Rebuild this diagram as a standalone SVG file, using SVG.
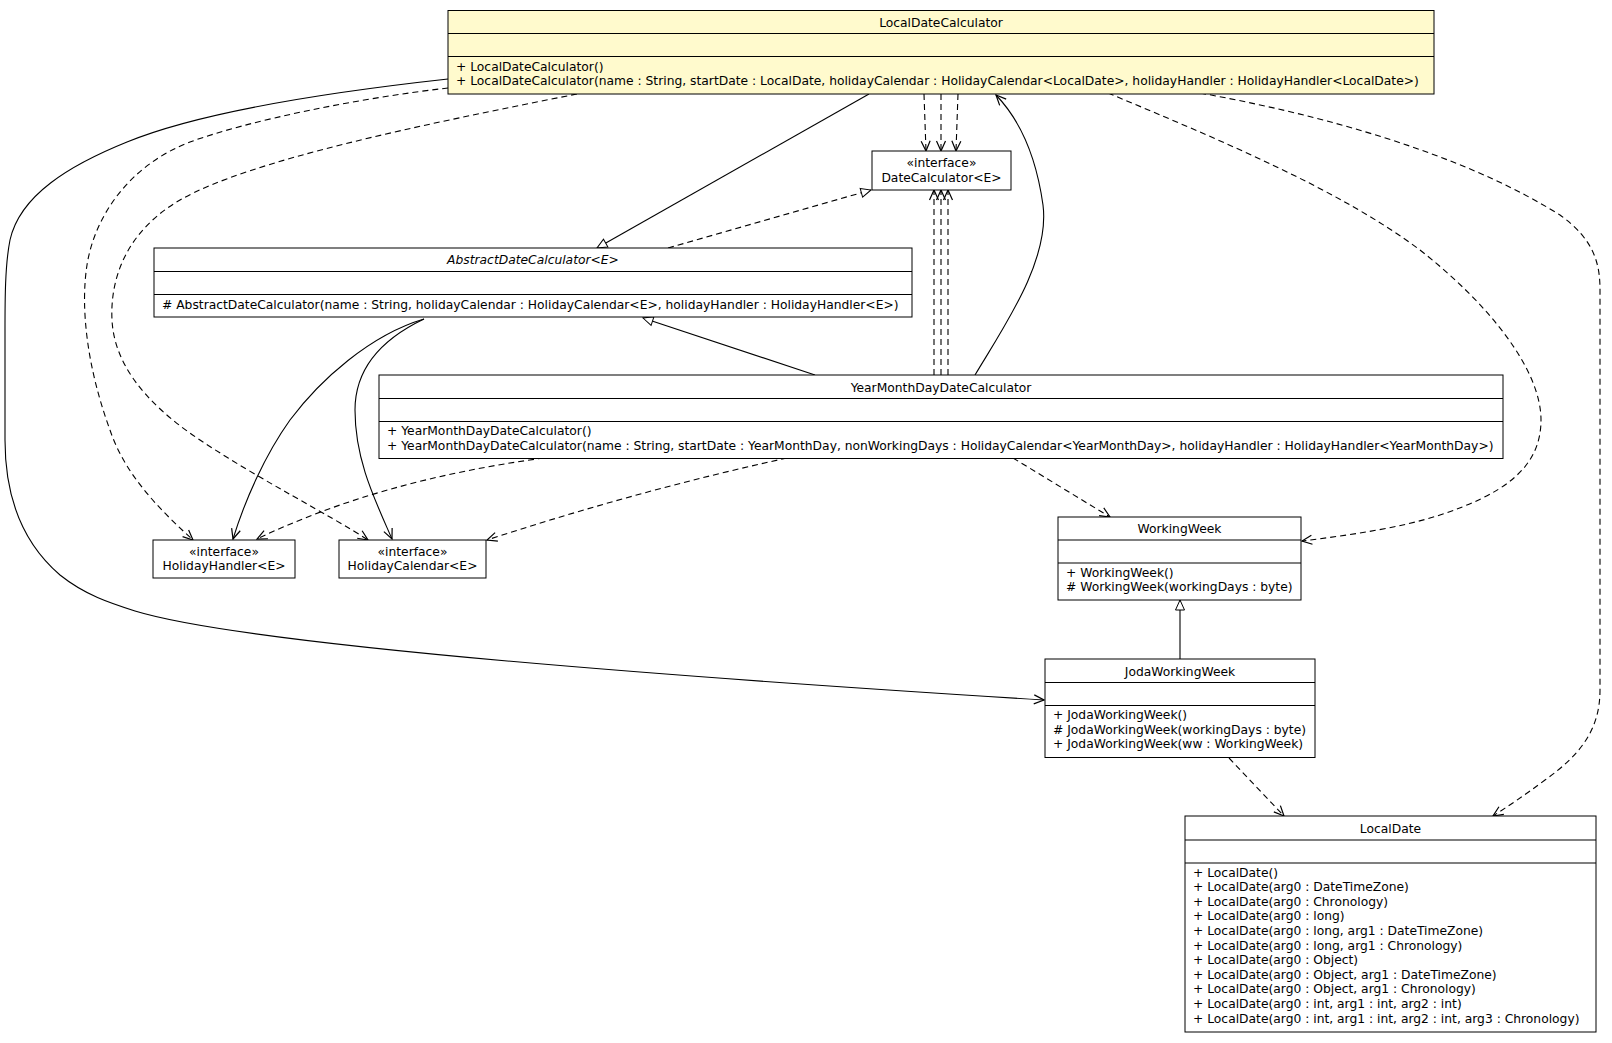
<svg xmlns="http://www.w3.org/2000/svg" width="1612" height="1043" viewBox="0 0 1612 1043">
<style>
  text { font-family: "DejaVu Sans", "Liberation Sans", sans-serif; font-size: 12.3px; fill: #000; }
  .c { text-anchor: middle; }
  .i { font-style: italic; }
  .box { fill: #fff; stroke: #000; stroke-width: 1; }
  .hl { fill: #fffacd; }
  .div { stroke: #000; stroke-width: 1.2; }
  .e { fill: none; stroke: #000; stroke-width: 1.1; }
  .d { stroke-dasharray: 6 4; }
  .oa { marker-end: url(#open); }
  .ta { marker-end: url(#tri); }
</style>
<defs>
  <marker id="open" viewBox="0 0 12 12" refX="11" refY="6" markerWidth="12" markerHeight="12" orient="auto" markerUnits="userSpaceOnUse">
    <path d="M1,1.5 L11,6 L1,10.5" fill="none" stroke="#000" stroke-width="1.2"/>
  </marker>
  <marker id="tri" viewBox="0 0 12 12" refX="11" refY="6" markerWidth="12" markerHeight="12" orient="auto" markerUnits="userSpaceOnUse">
    <path d="M1,1.5 L11,6 L1,10.5 Z" fill="#fff" stroke="#000" stroke-width="1"/>
  </marker>
</defs>
<rect width="1612" height="1043" fill="#fff"/>

<g id="connectors">
  <path class="e oa" d="M448,79 C330,92 200,112 127,142 C70,165 20,195 10,240 C5,265 5,300 5,330 L5,440 C5,500 25,545 60,575 C85,595 110,603 135,611 C230,640 560,670 1044,700"/>
  <path class="e d oa" d="M448,88 C360,98 250,120 190,142 C130,165 95,215 87,265 C80,310 88,370 110,430 C125,475 160,510 193,540"/>
  <path class="e d oa" d="M577,94 C420,125 250,160 180,200 C125,232 110,280 112,320 C114,360 140,400 200,440 C260,480 330,515 368,540"/>
  <path class="e ta" d="M869,94 L597,248"/>
  <path class="e d oa" d="M924,94 L926,151"/>
  <path class="e d oa" d="M941,94 L941,151"/>
  <path class="e d oa" d="M958,94 L956,151"/>
  <path class="e d oa" d="M1108,93 C1220,140 1340,190 1420,250 C1490,305 1541,370 1541,420 C1541,470 1500,495 1440,515 C1400,528 1350,535 1302,541"/>
  <path class="e d oa" d="M1200,93 C1360,122 1480,165 1560,215 C1595,240 1600,265 1600,290 L1600,690 C1600,730 1580,755 1545,780 C1525,795 1510,805 1493,816"/>
  <path class="e oa" d="M975,375 C1005,325 1050,260 1043,205 C1036,155 1020,120 996,95"/>
  <path class="e d oa" d="M934,375 L934,190"/>
  <path class="e d oa" d="M941,375 L941,190"/>
  <path class="e d oa" d="M948,375 L948,190"/>
  <path class="e ta" d="M815,375 L643,318"/>
  <path class="e d oa" d="M544,458 Q380,480 257,539"/>
  <path class="e d oa" d="M787,458 Q640,490 487,540"/>
  <path class="e d oa" d="M1013,458 L1110,517"/>
  <path class="e d ta" d="M668,248 L871,190"/>
  <path class="e oa" d="M424,319 C370,335 320,380 290,420 C265,455 245,500 233,539"/>
  <path class="e oa" d="M424,319 C380,340 355,370 355,410 C355,460 375,500 392,539"/>
  <path class="e ta" d="M1180,659 L1180,600"/>
  <path class="e d oa" d="M1229,758 L1284,816"/>
</g>

<g id="LocalDateCalculator">
  <rect class="box hl" x="448" y="10.5" width="986" height="83.5"/>
  <line class="div" x1="448" y1="33.5" x2="1434" y2="33.5"/>
  <line class="div" x1="448" y1="56.5" x2="1434" y2="56.5"/>
  <text class="c" x="941" y="26.5">LocalDateCalculator</text>
  <text x="456" y="70.5">+ LocalDateCalculator()</text>
  <text x="456" y="85">+ LocalDateCalculator(name : String, startDate : LocalDate, holidayCalendar : HolidayCalendar&lt;LocalDate&gt;, holidayHandler : HolidayHandler&lt;LocalDate&gt;)</text>
</g>

<g id="DateCalculator">
  <rect class="box" x="872" y="151" width="139" height="39"/>
  <text class="c" x="941.5" y="167">«interface»</text>
  <text class="c" x="941.5" y="182">DateCalculator&lt;E&gt;</text>
</g>

<g id="AbstractDateCalculator">
  <rect class="box" x="154" y="248" width="758" height="69"/>
  <line class="div" x1="154" y1="271.5" x2="912" y2="271.5"/>
  <line class="div" x1="154" y1="294.5" x2="912" y2="294.5"/>
  <text class="c i" x="533" y="264">AbstractDateCalculator&lt;E&gt;</text>
  <text x="162" y="308.5"># AbstractDateCalculator(name : String, holidayCalendar : HolidayCalendar&lt;E&gt;, holidayHandler : HolidayHandler&lt;E&gt;)</text>
</g>

<g id="YearMonthDayDateCalculator">
  <rect class="box" x="379" y="375" width="1124" height="83.5"/>
  <line class="div" x1="379" y1="398.5" x2="1503" y2="398.5"/>
  <line class="div" x1="379" y1="421.5" x2="1503" y2="421.5"/>
  <text class="c" x="941" y="391.5">YearMonthDayDateCalculator</text>
  <text x="387" y="435">+ YearMonthDayDateCalculator()</text>
  <text x="387" y="449.6">+ YearMonthDayDateCalculator(name : String, startDate : YearMonthDay, nonWorkingDays : HolidayCalendar&lt;YearMonthDay&gt;, holidayHandler : HolidayHandler&lt;YearMonthDay&gt;)</text>
</g>

<g id="HolidayHandler">
  <rect class="box" x="153" y="540" width="142" height="38"/>
  <text class="c" x="224" y="555.5">«interface»</text>
  <text class="c" x="224" y="570">HolidayHandler&lt;E&gt;</text>
</g>

<g id="HolidayCalendar">
  <rect class="box" x="339" y="540" width="147" height="38"/>
  <text class="c" x="412.5" y="555.5">«interface»</text>
  <text class="c" x="412.5" y="570">HolidayCalendar&lt;E&gt;</text>
</g>

<g id="WorkingWeek">
  <rect class="box" x="1058" y="517" width="243" height="83"/>
  <line class="div" x1="1058" y1="540" x2="1301" y2="540"/>
  <line class="div" x1="1058" y1="563" x2="1301" y2="563"/>
  <text class="c" x="1179.5" y="533">WorkingWeek</text>
  <text x="1066" y="576.5">+ WorkingWeek()</text>
  <text x="1066" y="591"># WorkingWeek(workingDays : byte)</text>
</g>

<g id="JodaWorkingWeek">
  <rect class="box" x="1045" y="659" width="270" height="98.5"/>
  <line class="div" x1="1045" y1="682.5" x2="1315" y2="682.5"/>
  <line class="div" x1="1045" y1="705.5" x2="1315" y2="705.5"/>
  <text class="c" x="1180" y="675.5">JodaWorkingWeek</text>
  <text x="1053" y="719">+ JodaWorkingWeek()</text>
  <text x="1053" y="733.6"># JodaWorkingWeek(workingDays : byte)</text>
  <text x="1053" y="748.2">+ JodaWorkingWeek(ww : WorkingWeek)</text>
</g>

<g id="LocalDate">
  <rect class="box" x="1185" y="816" width="411" height="216"/>
  <line class="div" x1="1185" y1="840" x2="1596" y2="840"/>
  <line class="div" x1="1185" y1="863" x2="1596" y2="863"/>
  <text class="c" x="1390.5" y="832.5">LocalDate</text>
  <text x="1193" y="876.5">+ LocalDate()</text>
  <text x="1193" y="891.1">+ LocalDate(arg0 : DateTimeZone)</text>
  <text x="1193" y="905.7">+ LocalDate(arg0 : Chronology)</text>
  <text x="1193" y="920.3">+ LocalDate(arg0 : long)</text>
  <text x="1193" y="934.9">+ LocalDate(arg0 : long, arg1 : DateTimeZone)</text>
  <text x="1193" y="949.5">+ LocalDate(arg0 : long, arg1 : Chronology)</text>
  <text x="1193" y="964.1">+ LocalDate(arg0 : Object)</text>
  <text x="1193" y="978.7">+ LocalDate(arg0 : Object, arg1 : DateTimeZone)</text>
  <text x="1193" y="993.3">+ LocalDate(arg0 : Object, arg1 : Chronology)</text>
  <text x="1193" y="1007.9">+ LocalDate(arg0 : int, arg1 : int, arg2 : int)</text>
  <text x="1193" y="1022.5">+ LocalDate(arg0 : int, arg1 : int, arg2 : int, arg3 : Chronology)</text>
</g>
</svg>
